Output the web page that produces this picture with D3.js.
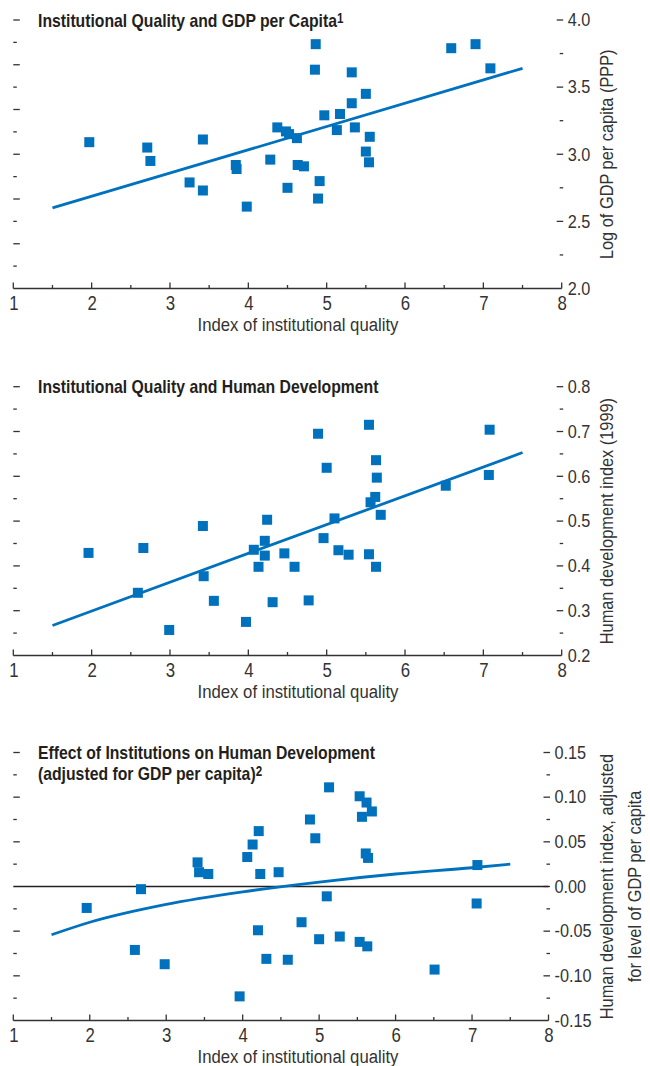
<!DOCTYPE html>
<html>
<head>
<meta charset="utf-8">
<script src="https://cdn.jsdelivr.net/npm/d3@7"></script>
<style>
  html, body { margin: 0; padding: 0; background: #fff; }
  svg { display: block; }
  text { font-family: "Liberation Sans", Arial, sans-serif; fill: #333; }
  .title { font-weight: bold; fill: #231f20; }
</style>
</head>
<body>
<svg id="chart" width="650" height="1066"></svg>
<script>
// ---- Data ----
// Panel 1: institutional quality vs log GDP per capita (PPP)
const iqGdp = [1.97, 2.71, 2.75, 3.42, 3.25, 3.42, 3.84, 3.85, 3.98, 4.28, 4.37, 4.48, 4.52, 4.62, 4.50, 4.63, 4.71,
               4.86, 4.85, 4.97, 4.91, 4.89, 5.32, 5.50, 5.32, 5.17, 5.13, 5.36, 5.55, 5.50, 5.54, 6.59, 6.90, 7.09];
const logGdp = [3.09, 3.05, 2.95, 3.11, 2.79, 2.73, 2.92, 2.89, 2.61, 2.96, 3.20, 3.17, 3.15, 3.12, 2.75, 2.92, 2.91,
                3.82, 3.63, 3.29, 2.80, 2.67, 3.61, 3.45, 3.38, 3.30, 3.18, 3.20, 3.13, 3.02, 2.94, 3.79, 3.82, 3.64];
const fitGdpX = [1.5, 7.5];
const fitGdpY = [2.60, 3.64];

// Panel 2: institutional quality vs human development index (1999)
const iqHdi = [1.96, 2.66, 2.59, 2.99, 3.42, 3.43, 3.56, 3.97, 4.07, 4.13, 4.21, 4.21, 4.24, 4.31, 4.46, 4.59, 4.77,
               4.89, 5.00, 4.96, 5.10, 5.15, 5.28, 5.54, 5.54, 5.56, 5.62, 5.63, 5.64, 5.69, 5.63, 6.52, 7.08, 7.07];
const hdi = [0.429, 0.440, 0.340, 0.257, 0.489, 0.377, 0.322, 0.275, 0.436, 0.398, 0.456, 0.423, 0.503, 0.319, 0.428, 0.398, 0.323,
             0.695, 0.619, 0.462, 0.506, 0.435, 0.425, 0.715, 0.426, 0.542, 0.554, 0.636, 0.597, 0.514, 0.398, 0.579, 0.704, 0.603];
const fitHdiX = [1.5, 7.5];
const fitHdiY = [0.267, 0.653];

// Panel 3: institutional quality vs HDI adjusted for GDP per capita
const iqAdj = [1.96, 2.67, 2.59, 2.98, 3.41, 3.43, 3.55, 3.96, 4.06, 4.13, 4.21, 4.23, 4.20, 4.31, 4.47, 4.59, 4.77,
               4.88, 4.95, 5.00, 5.10, 5.13, 5.27, 5.53, 5.62, 5.69, 5.56, 5.61, 5.64, 5.53, 5.63, 6.51, 7.07, 7.06];
const hdiAdj = [-0.024, -0.003, -0.071, -0.087, 0.027, 0.016, 0.014, -0.123, 0.033, 0.047, 0.062, 0.014, -0.049, -0.081, 0.016, -0.082, -0.040,
                0.075, 0.054, -0.059, -0.011, 0.111, -0.056, 0.101, 0.094, 0.084, 0.078, 0.037, 0.032, -0.062, -0.067, -0.093, 0.024, -0.019];
const fitAdjX = [1.5, 2, 3, 4, 5, 6, 7, 7.5];
const fitAdjY = [-0.054, -0.040, -0.020, -0.006, 0.005, 0.014, 0.021, 0.025];

// Axis ticks
const xTicks = [1, 2, 3, 4, 5, 6, 7, 8];
const gdpTicks = [2.0, 2.5, 3.0, 3.5, 4.0];
const hdiTicks = [0.2, 0.3, 0.4, 0.5, 0.6, 0.7, 0.8];
const adjTicks = [-0.15, -0.10, -0.05, 0.00, 0.05, 0.10, 0.15];
const adjTickLabels = ["-0.15", "-0.10", "-0.05", "0.00", "0.05", "0.10", "0.15"];

const BLUE = "#0071bc";
const svg = d3.select("#chart");

// Condensed text: a regular sans face squeezed horizontally
function label(parent, x, y, str, o) {
  const t = parent.append("text")
    .attr("transform", `translate(${x},${y})` + (o.rotate ? ` rotate(${o.rotate})` : "") + ` scale(${o.sx},1)`)
    .attr("text-anchor", o.anchor || "start")
    .style("font-size", o.size + "px");
  if (o.cls) t.attr("class", o.cls);
  if (o.dy) t.attr("dy", o.dy);
  if (str != null) t.text(str);
  return t;
}

function panel(cfg) {
  const g = svg.append("g");
  const x = d3.scaleLinear().domain([1, 8]).range([cfg.left, cfg.right]);
  const y = d3.scaleLinear().domain(cfg.yDomain).range([cfg.bottom, cfg.top]);

  // left-side tick marks (unlabelled)
  const lt = d3.scaleLinear().domain([0, 12]).range([cfg.bottom, cfg.top]);
  d3.range(1, 13).forEach(i => {
    if (cfg.zero && Math.abs(lt(i) - y(0)) < 2) return;
    g.append("line")
      .attr("x1", cfg.left).attr("x2", cfg.left + (i % 2 === 0 ? 6.5 : 3.5))
      .attr("y1", lt(i)).attr("y2", lt(i))
      .attr("stroke", "#333").attr("stroke-width", 1.3);
  });

  // right-side axis: ticks and labels
  const minor = [];
  for (let i = 0; i < cfg.yTicks.length - 1; i++) minor.push((cfg.yTicks[i] + cfg.yTicks[i + 1]) / 2);
  cfg.yTicks.forEach((v, i) => {
    if (i > 0) {
      g.append("line")
        .attr("x1", cfg.right - 5).attr("x2", cfg.right + 1.5)
        .attr("y1", y(v)).attr("y2", y(v))
        .attr("stroke", "#333").attr("stroke-width", 1.3);
    }
    label(g, cfg.right + 6, y(v), cfg.yLabels ? cfg.yLabels[i] : d3.format(cfg.yFmt)(v),
          { size: 17.5, sx: 0.93, dy: "0.36em" });
  });
  minor.forEach(v => {
    g.append("line")
      .attr("x1", cfg.right - 2).attr("x2", cfg.right + 1.5)
      .attr("y1", y(v)).attr("y2", y(v))
      .attr("stroke", "#333").attr("stroke-width", 1.3);
  });

  // x axis
  const xAxis = d3.axisBottom(x).tickValues(xTicks).tickSize(0).tickFormat(d3.format("d"));
  const ax = g.append("g").attr("transform", `translate(0,${cfg.bottom})`).call(xAxis);
  ax.select(".domain").remove();
  ax.attr("font-family", null).attr("font-size", null);
  ax.selectAll("text")
    .attr("y", 0).attr("dy", 0)
    .attr("transform", "translate(0,21.5) scale(0.82,1)")
    .attr("fill", "#333")
    .style("font-size", "20.5px");
  g.append("line")
    .attr("x1", cfg.left).attr("x2", cfg.right)
    .attr("y1", cfg.bottom).attr("y2", cfg.bottom)
    .attr("stroke", "#333").attr("stroke-width", 1.4);
  d3.range(1, 8.01, 0.5).forEach(v => {
    const major = Number.isInteger(v);
    g.append("line")
      .attr("x1", x(v)).attr("x2", x(v))
      .attr("y1", cfg.bottom).attr("y2", cfg.bottom - (major ? 6 : 3.5))
      .attr("stroke", "#333").attr("stroke-width", 1.3);
  });
  label(g, 298, cfg.bottom + 42, "Index of institutional quality", { size: 18.6, sx: 0.9, anchor: "middle" });

  // y axis title (rotated, right side)
  const midY = (cfg.top + cfg.bottom) / 2;
  cfg.yTitle.forEach((t, i) => {
    label(g, 613 + i * 28, midY, t, { size: 18.6, sx: 0.88, anchor: "middle", rotate: -90 });
  });

  // panel title
  cfg.title.forEach((t, i) => {
    const tt = label(g, 38, cfg.titleY + i * 21, null, { size: 19, sx: 0.83, cls: "title" });
    tt.append("tspan").text(t[0]);
    if (t[1]) tt.append("tspan").attr("dy", -4).style("font-size", "14px").text(t[1]);
  });

  // zero reference line
  if (cfg.zero) {
    g.append("line")
      .attr("x1", cfg.left).attr("x2", cfg.right)
      .attr("y1", y(0)).attr("y2", y(0))
      .attr("stroke", "#222").attr("stroke-width", 1.3);
  }

  // fitted line
  const fit = cfg.fitX.map((v, i) => [v, cfg.fitY[i]]);
  g.append("path")
    .datum(fit)
    .attr("fill", "none")
    .attr("stroke", BLUE)
    .attr("stroke-width", 2.8)
    .attr("d", d3.line().x(d => x(d[0])).y(d => y(d[1])).curve(d3.curveMonotoneX));

  // data points
  const pts = cfg.xs.map((v, i) => [v, cfg.ys[i]]);
  const s = 10;
  g.selectAll("rect.pt").data(pts).enter().append("rect")
    .attr("class", "pt")
    .attr("x", d => x(d[0]) - s / 2)
    .attr("y", d => y(d[1]) - s / 2)
    .attr("width", s).attr("height", s)
    .attr("fill", BLUE);
}

panel({
  left: 13.3, right: 561.7, top: 20, bottom: 288.5,
  yDomain: [2, 4], yTicks: gdpTicks, yFmt: ".1f",
  xs: iqGdp, ys: logGdp, fitX: fitGdpX, fitY: fitGdpY,
  title: [["Institutional Quality and GDP per Capita", "1"]], titleY: 27,
  yTitle: ["Log of GDP per capita (PPP)"]
});

panel({
  left: 13.3, right: 561.7, top: 386.7, bottom: 655.5,
  yDomain: [0.2, 0.8], yTicks: hdiTicks, yFmt: ".1f",
  xs: iqHdi, ys: hdi, fitX: fitHdiX, fitY: fitHdiY,
  title: [["Institutional Quality and Human Development"]], titleY: 393,
  yTitle: ["Human development index (1999)"]
});

panel({
  left: 13.3, right: 548.5, top: 752.5, bottom: 1020.5,
  yDomain: [-0.15, 0.15], yTicks: adjTicks, yLabels: adjTickLabels,
  xs: iqAdj, ys: hdiAdj, fitX: fitAdjX, fitY: fitAdjY, zero: true,
  title: [["Effect of Institutions on Human Development"], ["(adjusted for GDP per capita)", "2"]], titleY: 759,
  yTitle: ["Human development index, adjusted", "for level of GDP per capita"]
});
</script>
</body>
</html>
